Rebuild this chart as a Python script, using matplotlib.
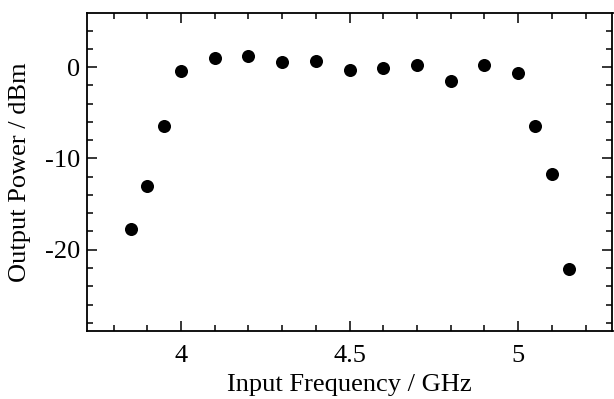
import matplotlib
matplotlib.use("Agg")
import matplotlib.pyplot as plt
from matplotlib.ticker import MultipleLocator

freq_ghz = [3.85, 3.9, 3.95, 4.0, 4.1, 4.2, 4.3, 4.4, 4.5, 4.6, 4.7, 4.8, 4.9, 5.0, 5.05, 5.1, 5.15]
power_dbm = [-17.7, -13.0, -6.45, -0.37, 0.95, 1.27, 0.55, 0.66, -0.3, -0.1, 0.25, -1.5, 0.22, -0.63, -6.45, -11.7, -22.1]

x_label = "Input Frequency / GHz"
y_label = "Output Power / dBm"
x_ticks = [4, 4.5, 5]
x_ticklabels = ["4", "4.5", "5"]
y_ticks = [-20, -10, 0]
y_ticklabels = ["-20", "-10", "0"]

plt.rcParams['font.family'] = ['Liberation Serif', 'DejaVu Serif']

W, H = 614, 399
fig = plt.figure(figsize=(W / 100, H / 100), dpi=100)
left, right, top, bottom = 86.7, 612.5, 13.3, 331.0
ax = fig.add_axes([left / W, (H - bottom) / H, (right - left) / W, (bottom - top) / H])

ax.plot(freq_ghz, power_dbm, 'o', color='black', markersize=9.4, markeredgewidth=0)

ax.set_xlim(3.72, 5.28)
ax.set_ylim(-28.9, 5.9)
ax.set_xticks(x_ticks)
ax.set_xticklabels(x_ticklabels)
ax.set_yticks(y_ticks)
ax.set_yticklabels(y_ticklabels)
ax.xaxis.set_minor_locator(MultipleLocator(0.1))
ax.yaxis.set_minor_locator(MultipleLocator(2))

ax.tick_params(which='both', direction='in', top=True, right=True, width=1.1, labelsize=19, colors='black')
ax.tick_params(which='major', length=7)
ax.tick_params(which='minor', length=4)
ax.tick_params(axis='x', which='major', pad=10)
ax.tick_params(axis='y', which='major', pad=5)
for s in ax.spines.values():
    s.set_linewidth(1.3)

ax.set_xlabel(x_label, fontsize=19, labelpad=5)
ax.set_ylabel(y_label, fontsize=19, labelpad=10)

fig.savefig("out.png", dpi=100)
